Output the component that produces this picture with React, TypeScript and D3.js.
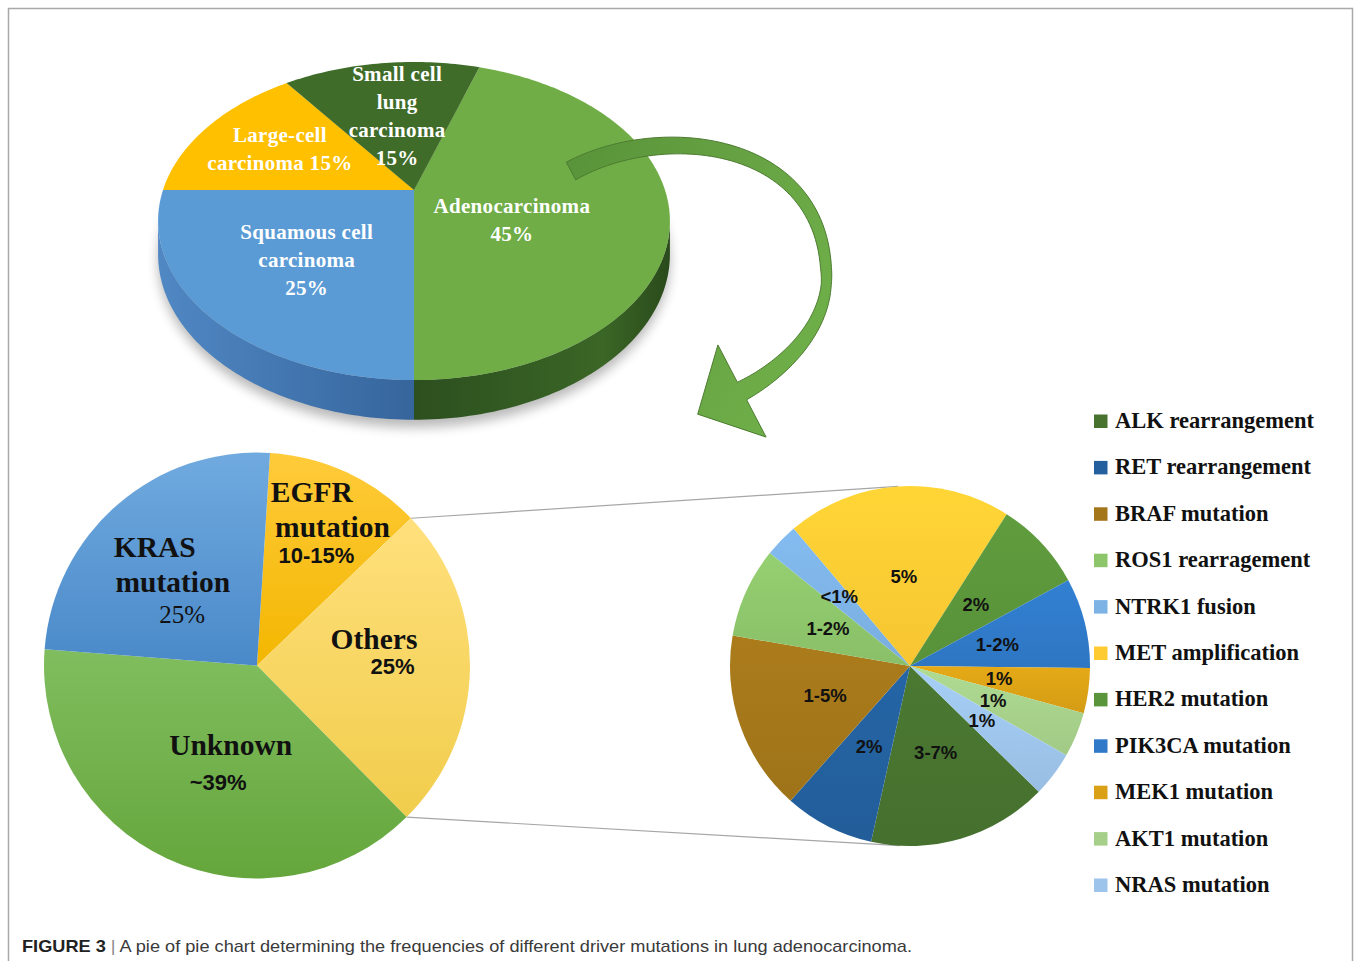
import React from 'react';
import * as d3 from 'd3';

// ---------- DATA ----------
const histTypes = ['Adenocarcinoma', 'Squamous cell carcinoma', 'Large-cell carcinoma', 'Small cell lung carcinoma'];
const histValues = [45, 25, 15, 15];
const histLabelLines = [
  ['Adenocarcinoma', '45%'],
  ['Squamous cell', 'carcinoma', '25%'],
  ['Large-cell', 'carcinoma 15%'],
  ['Small cell', 'lung', 'carcinoma', '15%'],
];

const mainCats = ['EGFR mutation', 'Others', 'Unknown', 'KRAS mutation'];
const mainValues = [12, 25, 39, 25];
const mainPctLabels = ['10-15%', '25%', '~39%', '25%'];

const subCats = ['ALK rearrangement', 'RET rearrangement', 'BRAF mutation', 'ROS1 rearragement', 'NTRK1 fusion', 'MET amplification', 'HER2 mutation', 'PIK3CA mutation', 'MEK1 mutation', 'AKT1 mutation', 'NRAS mutation'];
const subValues = [4, 2, 4, 2, 0.75, 5, 2, 2, 1, 1, 1];
const subLabels = ['3-7%', '2%', '1-5%', '1-2%', '<1%', '5%', '2%', '1-2%', '1%', '1%', '1%'];

const captionBold = 'FIGURE 3';
const captionText = 'A pie of pie chart determining the frequencies of different driver mutations in lung adenocarcinoma.';

// ---------- STYLE / LAYOUT ----------
const rad = (d: number) => (d * Math.PI) / 180;
const SERIF = "'Liberation Serif', 'Times New Roman', serif";
const SANS = "'Liberation Sans', Arial, sans-serif";

const histColors = ['#70ad47', '#5b9bd5', '#ffc000', '#3f6c29'];
const histSideFill = ['url(#sideGreen)', 'url(#sideBlue)', '#c99700', '#2b4a1c'];
// label offsets (dx, dy of middle baseline) from projected centroid
const histLabelOff = [[-28, 25], [-12, 19], [-27, -1], [1, 2]];

const mainGrad = [['#ffcb3a', '#f3b600'], ['#ffe07c', '#f1cd4c'], ['#80bd5e', '#65a63c'], ['#70aadf', '#4a89c9']];
// per label line: [text, kind, dx, dy] relative to centroid at 0.6R
const mainLabelLayout: [string, string, number, number][][] = [
  [['EGFR', 'serif', 1, -47.6], ['mutation', 'serif', 21.7, -12.6], ['', 'pct', 5.7, 13.4]],
  [['Others', 'serif', -10.8, -18.5], ['', 'pct', 7.7, 7]],
  [['Unknown', 'serif', 27.4, -26.6], ['', 'pct', 14.9, 8.4]],
  [['KRAS', 'serif', -18.3, -12], ['mutation', 'serif', -0.3, 23], ['', 'pctSerif', 9.2, 54]],
];

const subColors = ['#47732f', '#23609d', '#a3761a', '#8dc56b', '#7db2e4', '#fecb33', '#5b953b', '#2f79c8', '#daa116', '#a6d08a', '#9dc4ea'];

// 3D pie projection params
const K = 0.195, PCX = 414, PCY = 190, PC = 251, PB = 153, PH = 32;
function proj(a: number, f: number, depth = 0): [number, number] {
  const u = f * Math.sin(a), v = -f * Math.cos(a);
  const s = 1 / (1 - K * v);
  return [PCX + PC * u * s, PCY + PB * v * s + depth * s];
}
function arcPts(a0: number, a1: number, depth = 0): [number, number][] {
  const n = Math.max(2, Math.ceil(Math.abs(a1 - a0) / 0.02));
  const pts: [number, number][] = [];
  for (let i = 0; i <= n; i++) pts.push(proj(a0 + ((a1 - a0) * i) / n, 1, depth));
  return pts;
}
const line = d3.line();

function tangentPoint(P: number[], C: number[], r: number, upper: boolean): [number, number] {
  const dx = C[0] - P[0], dy = C[1] - P[1];
  const L = Math.hypot(dx, dy);
  const th = Math.atan2(dy, dx), al = Math.asin(r / L), t = Math.sqrt(L * L - r * r);
  const a = upper ? th - al : th + al;
  return [P[0] + t * Math.cos(a), P[1] + t * Math.sin(a)];
}

function arrowPath(): string {
  const P0 = [571, 171], P1 = [660, 122], P2 = [818, 138], P3 = [826, 268];
  const Q1 = [832, 322], Q2 = [786, 368], Q3 = [742, 391];
  const bez = (a: number[], b: number[], c: number[], d: number[], t: number) => {
    const m = 1 - t;
    return [0, 1].map(i => m * m * m * a[i] + 3 * m * m * t * b[i] + 3 * m * t * t * c[i] + t * t * t * d[i]);
  };
  const w = d3.scaleLinear().domain([0, 0.5, 1.1, 2]).range([10, 7.5, 5, 10]);
  const center: number[][] = [];
  const N = 60;
  for (let i = 0; i <= N; i++) center.push(bez(P0, P1, P2, P3, i / N));
  for (let i = 1; i <= N; i++) center.push(bez(P3, Q1, Q2, Q3, i / N));
  const outer: [number, number][] = [], inner: [number, number][] = [];
  center.forEach((p, i) => {
    const a = center[Math.max(0, i - 1)], b = center[Math.min(center.length - 1, i + 1)];
    const dx = b[0] - a[0], dy = b[1] - a[1], l = Math.hypot(dx, dy);
    const s = (i / center.length) * 2;
    const hw = w(s);
    outer.push([p[0] + (hw * dy) / l, p[1] - (hw * dx) / l]);
    inner.push([p[0] - (hw * dy) / l, p[1] + (hw * dx) / l]);
  });
  const dir = [Q3[0] - Q2[0], Q3[1] - Q2[1]];
  const dl = Math.hypot(dir[0], dir[1]);
  const ux = dir[0] / dl, uy = dir[1] / dl;
  const nx = uy, ny = -ux;
  const tip: [number, number] = [Q3[0] + ux * 50, Q3[1] + uy * 50];
  const barbO: [number, number] = [Q3[0] + nx * 52, Q3[1] + ny * 52];
  const barbI: [number, number] = [Q3[0] - nx * 52, Q3[1] - ny * 52];
  const pts = [...outer, barbO, tip, barbI, ...inner.reverse()];
  return line(pts) + 'Z';
}

export default function App() {
  // ---- top 3D pie ----
  const histPie = d3.pie<number>().sort(null).startAngle(rad(18)).endAngle(rad(378))(histValues);
  const visA = rad(101), visB = rad(259);

  const topFaces = histPie.map((s, i) => {
    const pts: [number, number][] = [proj(0, 0), ...arcPts(s.startAngle, s.endAngle)];
    return { d: line(pts) + 'Z', fill: histColors[i] };
  });
  const sides: { d: string; fill: string }[] = [];
  histPie.forEach((s, i) => {
    [0, Math.PI * 2].forEach(off => {
      const b0 = Math.max(s.startAngle, visA + off), b1 = Math.min(s.endAngle, visB + off);
      if (b1 > b0) {
        const top = arcPts(b0, b1);
        const bot = arcPts(b1, b0, PH);
        sides.push({ d: line([...top, ...bot]) + 'Z', fill: histSideFill[i] });
      }
    });
  });
  const shadowPts = arcPts(0, Math.PI * 2, PH + 6);
  const histLabels = histPie.map((s, i) => {
    const mid = (s.startAngle + s.endAngle) / 2;
    const [x, y] = proj(mid, 0.5);
    return { x: x + histLabelOff[i][0], y: y + histLabelOff[i][1], lines: histLabelLines[i] };
  });

  // ---- main 2D pie ----
  const MCX = 257, MCY = 665.5, MR = 213;
  const mainPie = d3.pie<number>().sort(null).startAngle(rad(3.5)).endAngle(rad(363.5))(mainValues);
  const mainArc = d3.arc<d3.PieArcDatum<number>>().innerRadius(0).outerRadius(MR);
  const labelArc = d3.arc<d3.PieArcDatum<number>>().innerRadius(MR * 0.6).outerRadius(MR * 0.6);

  // ---- sub pie ----
  const SCX = 910, SCY = 666, SR = 180;
  const subPie = d3.pie<number>().sort(null).startAngle(rad(134.3)).endAngle(rad(494.3))(subValues);
  const subArc = d3.arc<d3.PieArcDatum<number>>().innerRadius(0).outerRadius(SR);

  // connectors
  const ptOn = (a: number): [number, number] => [MCX + MR * Math.sin(a), MCY - MR * Math.cos(a)];
  const cA = ptOn(mainPie[0].endAngle), cB = ptOn(mainPie[1].endAngle);
  const tA = tangentPoint(cA, [SCX, SCY], SR, true);
  const tB = tangentPoint(cB, [SCX, SCY], SR, false);

  // legend
  const legendY = d3.scaleLinear().domain([0, subCats.length - 1]).range([428, 892]);

  return (
    <svg width={1354} height={961} style={{ position: 'absolute', left: 0, top: 0, background: '#fff' }}>
      <defs>
        <linearGradient id="sideBlue" gradientUnits="userSpaceOnUse" x1={158} x2={414} y1={0} y2={0}>
          <stop offset="0" stopColor="#5088c4" />
          <stop offset="1" stopColor="#36659c" />
        </linearGradient>
        <linearGradient id="sideGreen" gradientUnits="userSpaceOnUse" x1={404} x2={670} y1={0} y2={0}>
          <stop offset="0" stopColor="#2c4e1e" />
          <stop offset="0.75" stopColor="#3a6626" />
          <stop offset="1" stopColor="#2a4a1b" />
        </linearGradient>
        <linearGradient id="arrowGrad" gradientUnits="userSpaceOnUse" x1={570} y1={170} x2={830} y2={300}>
          <stop offset="0" stopColor="#5a943a" />
          <stop offset="0.5" stopColor="#66a243" />
          <stop offset="1" stopColor="#6eae48" />
        </linearGradient>
        <filter id="blur8" x="-20%" y="-20%" width="140%" height="140%">
          <feGaussianBlur stdDeviation="6" />
        </filter>
        {mainGrad.map((g, i) => (
          <linearGradient key={i} id={`mg${i}`} x1="0" y1="0" x2="0" y2="1">
            <stop offset="0" stopColor={g[0]} />
            <stop offset="1" stopColor={g[1]} />
          </linearGradient>
        ))}
        {subColors.map((c, i) => (
          <linearGradient key={i} id={`sg${i}`} x1="0" y1="0" x2="0" y2="1">
            <stop offset="0" stopColor={d3.color(c)!.brighter(0.15).formatHex()} />
            <stop offset="1" stopColor={d3.color(c)!.darker(0.08).formatHex()} />
          </linearGradient>
        ))}
      </defs>

      {/* frame */}
      <rect x={8.5} y={8.5} width={1344} height={980} fill="none" stroke="#a9a9a9" strokeWidth={1.5} />

      {/* 3D pie */}
      <path d={line(shadowPts) + 'Z'} fill="#000" opacity={0.28} filter="url(#blur8)" />
      {sides.map((s, i) => (
        <path key={'s' + i} d={s.d} fill={s.fill} />
      ))}
      {topFaces.map((f, i) => (
        <path key={'t' + i} d={f.d} fill={f.fill} />
      ))}
      {histLabels.map((l, i) => (
        <text key={'hl' + i} fill="#fff" fontFamily={SERIF} fontWeight="bold" fontSize={21} letterSpacing={0.3} textAnchor="middle">
          {l.lines.map((t, j) => (
            <tspan key={j} x={l.x} y={l.y + (j - (l.lines.length - 1) / 2) * 28}>{t}</tspan>
          ))}
        </text>
      ))}

      {/* arrow */}
      <path d={arrowPath()} fill="url(#arrowGrad)" stroke="#4d7c31" strokeWidth={1} />

      {/* connectors */}
      <line x1={cA[0]} y1={cA[1]} x2={tA[0]} y2={tA[1]} stroke="#a6a6a6" strokeWidth={1.2} />
      <line x1={cB[0]} y1={cB[1]} x2={tB[0]} y2={tB[1]} stroke="#a6a6a6" strokeWidth={1.2} />

      {/* main pie */}
      <g transform={`translate(${MCX},${MCY})`}>
        {mainPie.map((s, i) => (
          <path key={mainCats[i]} d={mainArc(s)!} fill={`url(#mg${i})`} />
        ))}
        {mainPie.map((s, i) => {
          const [cx, cy] = labelArc.centroid(s);
          return mainLabelLayout[i].map((ln, j) => {
            const [txt, kind, dx, dy] = ln;
            const text = kind === 'serif' ? txt : mainPctLabels[i];
            const fam = kind === 'pct' ? SANS : SERIF;
            const size = kind === 'serif' ? 29.5 : kind === 'pct' ? 22 : 25;
            const weight = kind === 'pctSerif' ? 'normal' : 'bold';
            return (
              <text key={i + '-' + j} x={cx + dx} y={cy + dy} textAnchor="middle" fontFamily={fam}
                fontSize={size} fontWeight={weight} fill="#111">{text}</text>
            );
          });
        })}
      </g>

      {/* sub pie */}
      <g transform={`translate(${SCX},${SCY})`}>
        {subPie.map((s, i) => (
          <path key={subCats[i]} d={subArc(s)!} fill={`url(#sg${i})`} />
        ))}
        {subPie.map((s, i) => {
          const mid = (s.startAngle + s.endAngle) / 2;
          const r = SR * (subValues[i] < 1 ? 0.55 : 0.5);
          return (
            <text key={'sl' + i} x={r * Math.sin(mid)} y={-r * Math.cos(mid) + 6.5} textAnchor="middle"
              fontFamily={SANS} fontWeight="bold" fontSize={18.5} fill="#111">{subLabels[i]}</text>
          );
        })}
      </g>

      {/* legend */}
      {subCats.map((c, i) => (
        <g key={'lg' + i}>
          <rect x={1094} y={legendY(i) - 13.5} width={13.5} height={13.5} fill={subColors[i]} />
          <text x={1115} y={legendY(i)} fontFamily={SERIF} fontWeight="bold" fontSize={22.5} fill="#111">{c}</text>
        </g>
      ))}

      {/* caption */}
      <text x={22} y={952} fontFamily={SANS} fontSize={17} textLength={890} lengthAdjust="spacingAndGlyphs" fill="#3a3a3a">
        <tspan fontWeight="bold" fill="#222">{captionBold}</tspan>
        <tspan fill="#888"> | </tspan>
        <tspan>{captionText}</tspan>
      </text>
    </svg>
  );
}
